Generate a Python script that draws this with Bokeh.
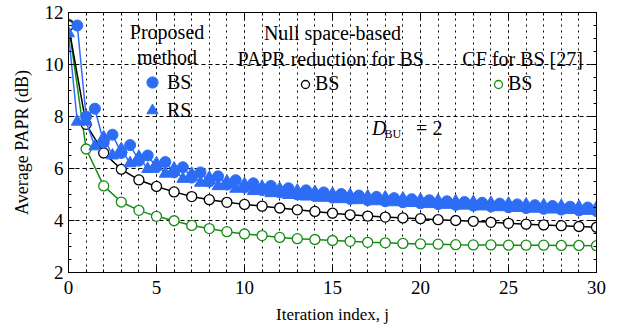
from bokeh.plotting import figure
from bokeh.models import (Range1d, SingleIntervalTicker, LinearAxis, Label,
                          Legend, LegendItem, CustomJSTickFormatter)
from bokeh.embed import file_html
from bokeh.resources import INLINE

# ---------------- data ----------------
iters = list(range(31))

null_bs = [11.5, 7.7, 6.6, 5.97, 5.56, 5.31, 5.10, 4.92, 4.80, 4.70, 4.62,
           4.55, 4.48, 4.41, 4.35, 4.28, 4.22, 4.17, 4.13, 4.10, 4.07,
           4.03, 4.00, 3.97, 3.93, 3.89, 3.86, 3.83, 3.80, 3.77, 3.74]

cf_bs = [11.55, 6.75, 5.33, 4.71, 4.39, 4.16, 3.99, 3.81, 3.69, 3.57, 3.48,
         3.42, 3.35, 3.30, 3.27, 3.23, 3.20, 3.16, 3.14, 3.12, 3.10,
         3.09, 3.07, 3.06, 3.06, 3.05, 3.05, 3.05, 3.04, 3.04, 3.03]

prop_bs_x = [0.5 * k for k in range(1, 61)]
prop_bs = [11.5, 8.0, 8.3, 7.0, 7.3, 6.6, 6.9, 6.3, 6.5, 6.05,
           6.25, 5.85, 6.05, 5.65, 5.85, 5.5, 5.7, 5.38, 5.55, 5.27,
           5.43, 5.17, 5.33, 5.08, 5.24, 5.0, 5.16, 4.94, 5.08, 4.88,
           5.02, 4.83, 4.96, 4.78, 4.91, 4.74, 4.86, 4.70, 4.82, 4.66,
           4.78, 4.63, 4.74, 4.60, 4.71, 4.57, 4.68, 4.54, 4.65, 4.51,
           4.62, 4.48, 4.59, 4.45, 4.56, 4.42, 4.53, 4.39, 4.50, 4.36]

prop_rs_x = [0.5 * k for k in range(0, 61)]
prop_rs = [11.2, 7.8, 7.8, 6.85, 7.2, 6.5, 6.75, 6.2, 6.45, 5.98,
           6.2, 5.8, 6.0, 5.6, 5.8, 5.45, 5.65, 5.32, 5.5, 5.22,
           5.4, 5.13, 5.3, 5.05, 5.22, 4.98, 5.15, 4.92, 5.1, 4.87,
           5.03, 4.82, 4.98, 4.78, 4.93, 4.74, 4.89, 4.70, 4.85, 4.67,
           4.8, 4.63, 4.77, 4.60, 4.74, 4.57, 4.71, 4.54, 4.68, 4.51,
           4.65, 4.48, 4.62, 4.45, 4.59, 4.42, 4.56, 4.40, 4.53, 4.37, 4.5]

BLUE = "#2d6df6"
GREEN = "#148c14"
FONT = "Liberation Serif"

p = figure(width=612, height=326, output_backend="svg", toolbar_location=None,
           x_range=Range1d(0, 30), y_range=Range1d(2, 12),
           min_border_left=68, min_border_right=16, min_border_top=12,
           min_border_bottom=53)
p.outline_line_color = "black"
p.outline_line_width = 1
p.background_fill_color = "white"

xt = SingleIntervalTicker(interval=5, num_minor_ticks=5)
yt = SingleIntervalTicker(interval=2, num_minor_ticks=4)
p.xaxis.ticker = xt
p.yaxis.ticker = yt

for ax in (p.xaxis[0], p.yaxis[0]):
    ax.major_tick_in = 6
    ax.major_tick_out = 0
    ax.minor_tick_in = 3
    ax.minor_tick_out = 0
    ax.axis_line_color = "black"
    ax.major_tick_line_color = "black"
    ax.minor_tick_line_color = "black"
    ax.major_label_text_font = FONT
    ax.major_label_text_font_size = "19px"
    ax.major_label_text_color = "black"
    ax.axis_label_text_font = FONT
    ax.axis_label_text_font_style = "normal"
    ax.axis_label_text_color = "black"

p.xaxis.axis_label = "Iteration index, j"
p.xaxis.axis_label_text_font_size = "17px"
p.yaxis.axis_label = "Average PAPR (dB)"
p.yaxis.axis_label_text_font_size = "18px"
p.xaxis.major_label_standoff = 8
p.xaxis.axis_label_standoff = 8
p.yaxis.major_label_standoff = 5
p.yaxis.axis_label_standoff = 10

# mirrored ticks (no labels)
blank = CustomJSTickFormatter(code="return ''")
for loc, tk in (("right", yt), ("above", xt)):
    a = LinearAxis(ticker=tk, formatter=blank, major_tick_in=6, major_tick_out=0,
                   minor_tick_in=3, minor_tick_out=0, major_label_standoff=0,
                   axis_line_color="black")
    p.add_layout(a, loc)

# grids
p.xgrid.grid_line_color = "black"
p.xgrid.grid_line_dash = "2 4"
p.xgrid.grid_line_width = 1
p.xgrid.minor_grid_line_color = "black"
p.xgrid.minor_grid_line_dash = "2 4"
p.xgrid.minor_grid_line_width = 1
p.ygrid.grid_line_color = "black"
p.ygrid.grid_line_dash = "4 3"
p.ygrid.grid_line_width = 1

# series
p.line(iters, cf_bs, line_color=GREEN, line_width=1.5)
r_cf = p.scatter(iters, cf_bs, marker="circle", size=10, fill_color="white",
                 line_color=GREEN, line_width=1.3)
p.line(iters, null_bs, line_color="black", line_width=1.5)
r_null = p.scatter(iters, null_bs, marker="circle", size=10, fill_color="white",
                   line_color="black", line_width=1.3)
p.line(prop_rs_x, prop_rs, line_color=BLUE, line_width=1.5)
r_rs = p.scatter(prop_rs_x, prop_rs, marker="triangle", size=12,
                 fill_color=BLUE, line_color=BLUE)
p.line(prop_bs_x, prop_bs, line_color=BLUE, line_width=1.5)
r_bs = p.scatter(prop_bs_x, prop_bs, marker="circle", size=11,
                 fill_color=BLUE, line_color=BLUE)

# legends
def mk_legend(items, loc, gw, gh, spacing):
    return Legend(items=items, location=loc, glyph_width=gw, glyph_height=gh,
                  spacing=spacing, label_standoff=0, padding=0, margin=0,
                  border_line_alpha=0, background_fill_alpha=0,
                  label_text_font=FONT, label_text_font_size="20px",
                  label_height=gh, label_text_color="black")

p.add_layout(mk_legend([LegendItem(label="BS", renderers=[r_bs]),
                        LegendItem(label="RS", renderers=[r_rs])],
                       (69, 148), 30, 28, 0))
p.add_layout(mk_legend([LegendItem(label="BS", renderers=[r_null])],
                       (227, 177), 20, 20, 0))
p.add_layout(mk_legend([LegendItem(label="BS", renderers=[r_cf])],
                       (420, 177), 20, 20, 0))

def lab(x, y, text, size="20px", align="center", style="normal"):
    p.add_layout(Label(x=x, y=y, text=text, text_align=align,
                       text_baseline="middle", text_font=FONT,
                       text_font_size=size, text_font_style=style,
                       text_color="black"))

lab(5.6, 11.25, "Proposed")
lab(5.6, 10.29, "method")
lab(15.0, 11.2, "Null space-based")
lab(14.9, 10.2, "PAPR reduction for BS")
lab(25.8, 10.2, "CF for BS [27]")
lab(17.25, 7.56, "D", align="left", style="italic")
lab(17.95, 7.33, "BU", size="12px", align="left")
lab(19.75, 7.56, "= 2", align="left")

open("out.html", "w").write(file_html(p, INLINE))
